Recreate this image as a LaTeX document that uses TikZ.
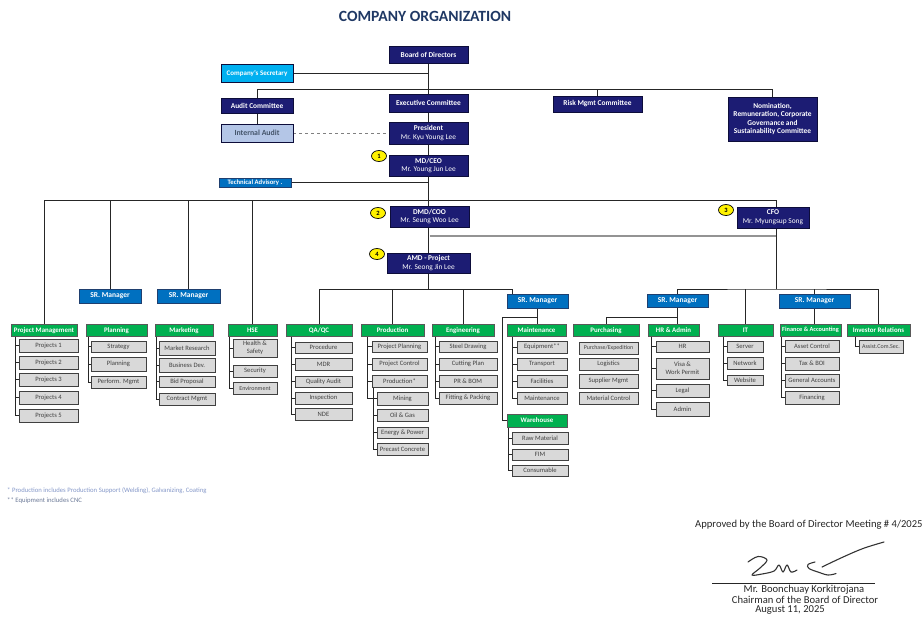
\documentclass[tikz,border=0pt]{standalone}
\usepackage{fontspec}
\setmainfont{Carlito}
\usetikzlibrary{shapes.geometric,backgrounds}
\definecolor{navyc}{HTML}{1C1C73}
\definecolor{navyd}{HTML}{0D0D3A}
\definecolor{cyanc}{HTML}{00B0F0}
\definecolor{iac}{HTML}{B4C6E7}
\definecolor{iat}{HTML}{44546A}
\definecolor{bluec}{HTML}{0070C0}
\definecolor{blued}{HTML}{1F3F6F}
\definecolor{greenc}{HTML}{00B050}
\definecolor{leafc}{HTML}{D9D9D9}
\definecolor{titlec}{HTML}{1F3864}
\definecolor{notec}{HTML}{8497C8}
\definecolor{noted}{HTML}{6A7896}
\newcommand\mybox[7]{\node[#2, minimum width={#5-#3}, minimum height={#6-#4}] (#1) at ({(#3+#5)/2},{(#4+#6)/2}) {#7};}
\newcommand\mybrk[3]{\foreach \c in {#3}{\draw ([xshift=#2]#1.south west) |- (\c.west);}}
\tikzset{
  base/.style={rectangle, inner sep=0pt, outer sep=0pt, align=center, line width=0.6pt},
  navy/.style={base, fill=navyc, draw=navyd, text=white, font=\fontsize{7.4}{8.6}\selectfont\bfseries},
  secbox/.style={base, fill=cyanc, draw=navyd, text=white, font=\fontsize{7}{8}\selectfont\bfseries},
  iabox/.style={base, fill=iac, draw=navyd, text=iat, font=\fontsize{7.8}{8}\selectfont\bfseries},
  srm/.style={base, fill=bluec, draw=blued, text=white, font=\fontsize{7.5}{8}\selectfont\bfseries},
  tabox/.style={base, fill=bluec, draw=blued, text=white, font=\fontsize{6.7}{7}\selectfont\bfseries},
  hdr/.style={base, fill=greenc, draw=black!65, text=white, font=\fontsize{6.9}{7.5}\selectfont\bfseries},
  leaf/.style={base, fill=leafc, draw=black!75, line width=0.9pt, text=black!75, font=\fontsize{6.6}{7.6}\selectfont},
  badge/.style={ellipse, fill=yellow, draw=black, line width=0.7pt, inner sep=0pt, minimum width=15, minimum height=11, font=\fontsize{6.5}{7}\selectfont\bfseries},
  conn/.style={draw=black!85, line width=0.8pt},
  grayconn/.style={draw=gray!85, line width=1.5pt},
  dashconn/.style={draw=gray, line width=0.5pt, dashed},
  sigtext/.style={anchor=center, font=\fontsize{10.6}{11}\selectfont, text=black!85},
}
\begin{document}
\begin{tikzpicture}[x=1pt, y=-1pt]
\useasboundingbox (0,0) rectangle (923,622);
\node[font=\fontsize{15.6}{16}\selectfont\bfseries, text=titlec] (title) at (425,16) {COMPANY ORGANIZATION};
% top level
\mybox{bod}{navy}{389}{46}{468}{63}{Board of Directors}
\mybox{sec}{secbox}{221}{64}{293}{82}{Company's Secretary}
\mybox{audit}{navy}{221}{98}{293}{113}{Audit Committee}
\mybox{exec}{navy}{389}{94}{468}{112}{Executive Committee}
\mybox{risk}{navy}{553}{96}{642}{112}{Risk Mgmt Committee}
\mybox{nom}{navy}{728}{97}{817}{141}{Nomination,\\Remuneration, Corporate\\Governance and\\Sustainability Committee}
\mybox{ia}{iabox}{221}{124}{293}{142}{Internal Audit}
\mybox{pres}{navy}{389}{122}{468}{144}{President\\{\mdseries Mr. Kyu Young Lee}}
\mybox{ceo}{navy}{389}{155}{468}{176}{MD/CEO\\{\mdseries Mr. Young Jun Lee}}
\node[badge] (b1) at (379,156) {1};
\mybox{ta}{tabox}{219}{178}{291}{187}{Technical Advisory .}
\mybox{coo}{navy}{390}{206}{469}{227}{DMD/COO\\{\mdseries Mr. Seung Woo Lee}}
\node[badge] (b2) at (378,213) {2};
\mybox{cfo}{navy}{737}{207}{809}{228}{CFO\\{\mdseries Mr. Myungsup Song}}
\node[badge] (b3) at (726,210) {3};
\mybox{amd}{navy}{387}{253}{470}{273}{AMD - Project\\{\mdseries Mr. Seong Jin Lee}}
\node[badge] (b4) at (377,254) {4};
% senior managers
\mybox{srm1}{srm}{79}{289}{141}{303}{SR. Manager}
\mybox{srm2}{srm}{157}{289}{220}{303}{SR. Manager}
\mybox{srm3}{srm}{507}{294}{568}{308}{SR. Manager}
\mybox{srm4}{srm}{647}{294}{708}{307}{SR. Manager}
\mybox{srm5}{srm}{779}{294}{850}{308}{SR. Manager}
% department headers
\mybox{pm}{hdr}{11}{324.5}{77}{336}{Project Management}
\mybox{plan}{hdr}{86}{324.5}{147}{336}{Planning}
\mybox{mkt}{hdr}{155}{324.5}{213}{336}{Marketing}
\mybox{hse}{hdr}{228}{324.5}{277}{336}{HSE}
\mybox{qa}{hdr}{286}{324.5}{352}{336}{QA/QC}
\mybox{prod}{hdr}{361}{324.5}{424}{336}{Production}
\mybox{eng}{hdr}{432}{324.5}{494}{336}{Engineering}
\mybox{maint}{hdr}{507}{324.5}{566}{336}{Maintenance}
\mybox{pur}{hdr}{573}{324.5}{639}{336}{Purchasing}
\mybox{hr}{hdr}{648}{324.5}{699}{336}{HR \& Admin}
\mybox{it}{hdr}{718}{324.5}{773}{336}{IT}
\mybox{fa}{hdr, font=\fontsize{6.3}{7}\selectfont\bfseries}{780}{324.5}{841}{336}{Finance \& Accounting}
\mybox{ir}{hdr}{847}{324.5}{910}{336}{Investor Relations}
\mybox{wh}{hdr}{507}{414}{567}{427}{Warehouse}
% project management
\mybox{p1}{leaf}{19}{339}{78}{352}{Projects 1}
\mybox{p2}{leaf}{19}{356}{78}{369}{Projects 2}
\mybox{p3}{leaf}{19}{373}{78}{386}{Projects 3}
\mybox{p4}{leaf}{19}{391}{78}{404}{Projects 4}
\mybox{p5}{leaf}{19}{409}{78}{422}{Projects 5}
% planning
\mybox{pl1}{leaf}{91}{341}{146}{352}{Strategy}
\mybox{pl2}{leaf}{91}{357}{146}{371}{Planning}
\mybox{pl3}{leaf}{91}{376}{146}{388}{Perform. Mgmt}
% marketing
\mybox{m1}{leaf}{159}{341}{215}{355}{Market Research}
\mybox{m2}{leaf}{159}{358}{215}{372}{Business Dev.}
\mybox{m3}{leaf}{159}{376}{215}{387}{Bid Proposal}
\mybox{m4}{leaf}{159}{393}{215}{405}{Contract Mgmt}
% HSE
\mybox{h1}{leaf}{233}{339}{277}{357}{Health \&\\Safety}
\mybox{h2}{leaf}{233}{365}{277}{377}{Security}
\mybox{h3}{leaf, font=\fontsize{6}{7}\selectfont}{233}{382}{277}{394}{Environment}
% QA/QC
\mybox{q1}{leaf}{295}{342}{352}{353}{Procedure}
\mybox{q2}{leaf}{295}{358}{352}{370}{MDR}
\mybox{q3}{leaf}{295}{376}{352}{387}{Quality Audit}
\mybox{q4}{leaf}{295}{392}{352}{404}{Inspection}
\mybox{q5}{leaf}{295}{408}{352}{420}{NDE}
% production
\mybox{pr1}{leaf}{372}{341}{427}{352}{Project Planning}
\mybox{pr2}{leaf}{372}{358}{427}{370}{Project Control}
\mybox{pr3}{leaf}{372}{375}{427}{387}{Production*}
\mybox{pr4}{leaf}{377}{392}{428}{405}{Mining}
\mybox{pr5}{leaf}{377}{409}{428}{421}{Oil \& Gas}
\mybox{pr6}{leaf}{377}{427}{428}{438}{Energy \& Power}
\mybox{pr7}{leaf}{377}{443}{428}{455}{Precast Concrete}
% engineering
\mybox{e1}{leaf}{439}{341}{497}{352}{Steel Drawing}
\mybox{e2}{leaf}{439}{358}{497}{370}{Cutting Plan}
\mybox{e3}{leaf}{439}{375}{497}{387}{PR \& BOM}
\mybox{e4}{leaf}{439}{392}{497}{404}{Fitting \& Packing}
% maintenance
\mybox{mt1}{leaf}{517}{341}{567}{353}{Equipment**}
\mybox{mt2}{leaf}{517}{358}{567}{370}{Transport}
\mybox{mt3}{leaf}{517}{375}{567}{387}{Facilities}
\mybox{mt4}{leaf}{517}{392}{567}{404}{Maintenance}
% warehouse
\mybox{w1}{leaf}{512}{432}{568}{444}{Raw Material}
\mybox{w2}{leaf}{512}{449}{568}{460}{FIM}
\mybox{w3}{leaf}{512}{465}{568}{476}{Consumable}
% purchasing
\mybox{pu1}{leaf, font=\fontsize{5.9}{7}\selectfont}{579}{342}{638}{354}{Purchase/Expedition}
\mybox{pu2}{leaf}{579}{358}{638}{370}{Logistics}
\mybox{pu3}{leaf}{579}{374}{638}{388}{Supplier Mgmt}
\mybox{pu4}{leaf}{579}{392}{638}{404}{Material Control}
% HR
\mybox{hr1}{leaf}{656}{341}{709}{352}{HR}
\mybox{hr2}{leaf}{656}{358}{709}{379}{Visa \&\\Work Permit}
\mybox{hr3}{leaf}{656}{384}{709}{397}{Legal}
\mybox{hr4}{leaf}{656}{402}{709}{416}{Admin}
% IT
\mybox{it1}{leaf}{727}{341}{763}{352}{Server}
\mybox{it2}{leaf}{727}{357}{763}{369}{Network}
\mybox{it3}{leaf}{727}{375}{763}{385}{Website}
% finance
\mybox{f1}{leaf}{785}{340}{839}{352}{Asset Control}
\mybox{f2}{leaf}{785}{357}{839}{370}{Tax \& BOI}
\mybox{f3}{leaf}{785}{374}{839}{387}{General Accounts}
\mybox{f4}{leaf}{785}{391}{839}{404}{Financing}
% investor relations
\mybox{ir1}{leaf, font=\fontsize{6}{7}\selectfont}{859}{340}{903}{353}{Assist.Com.Sec.}
% coordinates
\coordinate (r89) at (0,89);
\coordinate (j200) at (776,200);
\coordinate (j289) at (776,289);
\coordinate (g236) at (776,236);
\coordinate (r289) at (0,289);
\coordinate (r317) at (0,317);
% connectors
\begin{scope}[on background layer, every path/.style={conn}]
\draw (bod) -- (exec);
\draw (sec) -- (sec -| bod);
\draw (audit.north) |- (r89 -| nom.north) -- (nom.north);
\draw (risk.north) -- (risk.north |- r89);
\draw (audit) -- (ia);
\draw[dashconn] (ia) -- (pres);
\draw (exec) -- (exec |- amd.north);
\draw (ta) -- (ta -| ceo);
\draw (pm.north) |- (j200) -- (j289);
\draw (srm1.north) -- (srm1.north |- j200);
\draw (srm2.north) -- (srm2.north |- j200);
\draw (hse.north) -- (hse.north |- j200);
\draw[grayconn] (g236 -| coo.south) -- (g236);
\draw (srm4.north) |- (j289) -| (ir.north);
\draw (it.north) -- (it.north |- j289);
\draw (srm5.north) -- (srm5.north |- j289);
\draw (srm5.south) -- (srm5.south |- fa.north);
\draw (srm4.south) -- (srm4.south |- hr.north);
\draw (r317 -| srm4.south) -| (pur.north);
\draw (amd.south) -- (amd.south |- r289);
\draw ([xshift=5]srm3.north west) -- ++(0,-5) -| (qa.north);
\draw (prod.north) -- (prod.north |- r289);
\draw (eng.north) -- (eng.north |- r289);
\draw (srm3.south) -- (srm3.south |- maint.north);
\draw (r317 -| srm3.south) -| ([xshift=-5]wh.west) -- (wh.west);
\mybrk{pm}{4}{p1,p2,p3,p4,p5}
\mybrk{plan}{2}{pl1,pl2,pl3}
\mybrk{mkt}{1}{m1,m2,m3,m4}
\mybrk{hse}{1.5}{h1,h2,h3}
\mybrk{qa}{5}{q1,q2,q3,q4,q5}
\mybrk{prod}{6}{pr1,pr2,pr3,pr4}
\mybrk{pr3}{1}{pr5,pr6,pr7}
\mybrk{eng}{3}{e1,e2,e3,e4}
\mybrk{maint}{5}{mt1,mt2,mt3,mt4}
\mybrk{wh}{1}{w1,w2,w3}
\mybrk{hr}{3}{hr1,hr2,hr3,hr4}
\mybrk{it}{5}{it1,it2,it3}
\mybrk{fa}{1}{f1,f2,f3,f4}
\mybrk{ir}{8}{ir1}
\end{scope}
% footnotes
\node[anchor=west, font=\fontsize{6.7}{7}\selectfont, text=notec, inner sep=0pt] (n1) at (7,491) {* Production includes Production Support (Welding), Galvanizing, Coating};
\node[anchor=west, font=\fontsize{6.7}{7}\selectfont, text=noted, inner sep=0pt] (n2) at (7,501) {** Equipment includes CNC};
% approval and signature
\node[anchor=west, font=\fontsize{10.6}{11}\selectfont, text=black!85, inner sep=0pt] (appr) at (695,525) {Approved by the Board of Director Meeting \# 4/2025};
\draw[line width=1.1pt, black!80, line cap=round, line join=round] plot[smooth, tension=0.6] coordinates {(748,562) (758,556.5) (767,560) (760,568) (752,575) (762,574) (774,571) (779,565) (783,572) (787,565) (791,572) (797,570)};
\draw[line width=1.1pt, black!80, line cap=round, line join=round] plot[smooth, tension=0.6] coordinates {(815,562) (808,564.5) (809,568.5) (818,572) (828,575) (836,573.5)};
\draw[line width=1.1pt, black!80, line cap=round] plot[smooth, tension=0.6] coordinates {(822,567) (842,557.5) (863,548.5) (884,542)};
\draw[line width=0.8pt, black!85] (712,583) -- (875,583);
\node[sigtext] (sig1) at (804,590) {Mr. Boonchuay Korkitrojana};
\node[sigtext] (sig2) at (805,600) {Chairman of the Board of Director};
\node[sigtext] (sig3) at (790,610) {August 11, 2025};
\end{tikzpicture}
\end{document}
